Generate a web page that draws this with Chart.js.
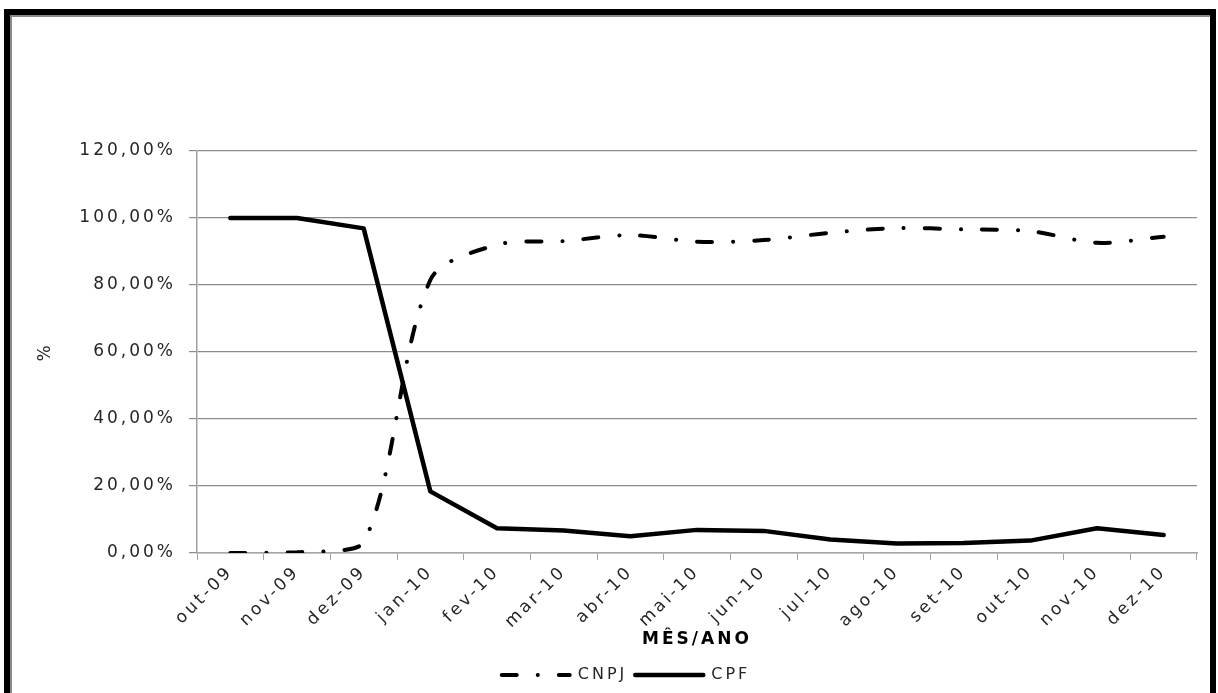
<!DOCTYPE html>
<html>
<head>
<meta charset="utf-8">
<script src="https://cdn.jsdelivr.net/npm/chart.js@4.4.1/dist/chart.umd.min.js"></script>
<style>
  html, body { margin: 0; padding: 0; background: #fff; }
  #wrap { position: relative; width: 1218px; height: 693px; overflow: hidden; background: #fff; }
  #frame {
    position: absolute; left: 4px; top: 9px; width: 1200px; height: 700px;
    border: 6px solid #000; border-bottom: none;
  }
  #frame::after {
    content: ''; position: absolute; left: 0; top: 0; right: 0; bottom: 0;
    border-left: 2px solid #8a8a8a; border-top: 2px solid #8a8a8a;
  }
  #c { position: absolute; left: 0; top: 0; }
</style>
</head>
<body>
<div id="wrap">
  <div id="frame"></div>
  <canvas id="c" width="1218" height="693"></canvas>
</div>
<script>
// Months of the series (category axis)
const months = ['out-09', 'nov-09', 'dez-09', 'jan-10', 'fev-10', 'mar-10', 'abr-10',
                'mai-10', 'jun-10', 'jul-10', 'ago-10', 'set-10', 'out-10', 'nov-10', 'dez-10'];

// Share per month, in percent
const cnpj = [0.0, 0.2, 3.0, 81.5, 92.0, 93.1, 94.9, 92.9, 93.4, 95.6, 97.0, 96.6, 96.1, 92.6, 94.4];
const cpf  = [100.0, 100.0, 96.9, 18.4, 7.4, 6.7, 5.0, 6.9, 6.6, 4.0, 2.8, 3.0, 3.7, 7.4, 5.4];

// Value axis range
const yMin = 0;
const yMax = 120;
const yStep = 20;

const FONT = "'DejaVu Sans', sans-serif";
const TEXT = '#262626';

// Wide-set lettering for every text on the canvas
const spacing = {
  id: 'spacing',
  beforeUpdate(chart) { chart.ctx.letterSpacing = '3px'; },
  beforeDraw(chart) { chart.ctx.letterSpacing = '3px'; }
};

const fmtPct = v => v.toFixed(2).replace('.', ',') + '%';

new Chart(document.getElementById('c'), {
  type: 'line',
  data: {
    labels: months,
    datasets: [
      {
        label: 'CNPJ',
        data: cnpj,
        borderColor: '#000',
        backgroundColor: '#000',
        borderWidth: 4,
        borderDash: [15, 21, 0.1, 21],
        borderCapStyle: 'round',
        borderJoinStyle: 'round',
        tension: 0.3,
        pointRadius: 0,
        fill: false
      },
      {
        label: 'CPF',
        data: cpf,
        borderColor: '#000',
        backgroundColor: '#000',
        borderWidth: 4.5,
        borderCapStyle: 'round',
        borderJoinStyle: 'round',
        tension: 0,
        pointRadius: 0,
        fill: false
      }
    ]
  },
  options: {
    responsive: false,
    animation: false,
    devicePixelRatio: 1,
    layout: { padding: { left: 55, right: 21, top: 151, bottom: 0 } },
    plugins: {
      tooltip: { enabled: false },
      title: { display: false },
      legend: {
        position: 'bottom',
        align: 'center',
        labels: {
          usePointStyle: true,
          pointStyleWidth: 68,
          boxHeight: 8,
          padding: 8,
          color: TEXT,
          font: { family: FONT, size: 16 },
          generateLabels(chart) {
            return chart.data.datasets.map((ds, i) => ({
              text: ds.label,
              fillStyle: '#000',
              strokeStyle: '#000',
              lineWidth: ds.borderWidth,
              lineDash: ds.borderDash || [],
              lineCap: ds.borderCapStyle,
              pointStyle: 'line',
              fontColor: TEXT,
              hidden: false,
              datasetIndex: i
            }));
          }
        }
      }
    },
    scales: {
      x: {
        type: 'category',
        offset: true,
        grid: {
          offset: true,
          drawOnChartArea: false,
          drawTicks: true,
          tickLength: 7,
          color: '#a6a6a6'
        },
        border: { display: true, color: '#a6a6a6', width: 1.5 },
        ticks: {
          autoSkip: false,
          maxRotation: 45,
          minRotation: 45,
          padding: 2,
          color: TEXT,
          font: { family: FONT, size: 17 }
        },
        title: {
          display: true,
          text: 'MÊS/ANO',
          color: '#000',
          font: { family: FONT, size: 17, weight: 'bold' },
          padding: { top: 0, bottom: 9 }
        },
        afterFit(scale) { scale.height = 106; }
      },
      y: {
        min: yMin,
        max: yMax,
        grid: {
          color: '#8c8c8c',
          lineWidth: 1.2,
          tickLength: 8,
          drawTicks: true
        },
        border: { display: true, color: '#a0a0a0', width: 1.5 },
        ticks: {
          stepSize: yStep,
          padding: 13,
          color: TEXT,
          font: { family: FONT, size: 17 },
          callback: v => fmtPct(v)
        },
        title: {
          display: true,
          text: '%',
          color: TEXT,
          font: { family: FONT, size: 17 },
          padding: { top: -20, bottom: 0 }
        },
        afterFit(scale) { scale.width = 142; }
      }
    }
  },
  plugins: [spacing]
});
</script>
</body>
</html>
